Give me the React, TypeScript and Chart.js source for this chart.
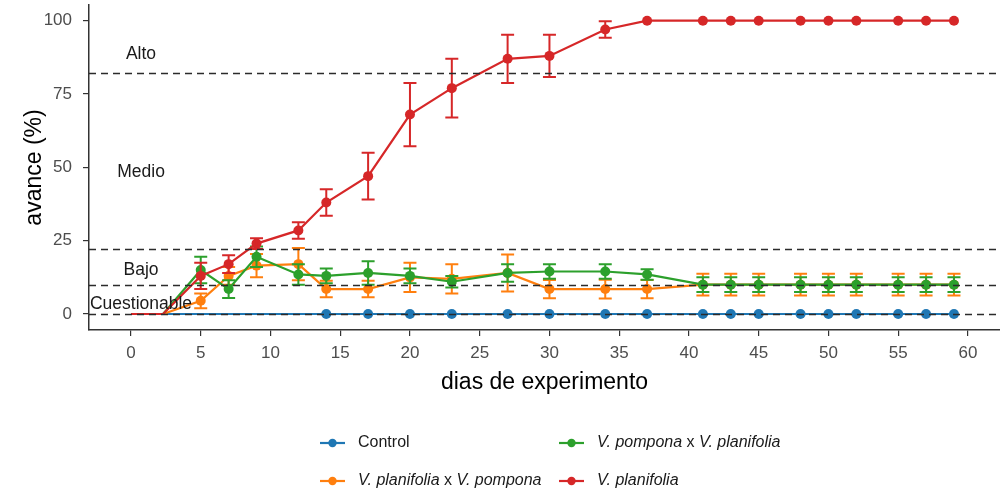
import React, { useEffect, useRef } from 'react';
import { Chart, registerables } from 'chart.js';

Chart.register(...registerables);

const FONT = "'Liberation Sans', Arial, Helvetica, sans-serif";

// ---------- data ----------
const xTicks = [0, 5, 10, 15, 20, 25, 30, 35, 40, 45, 50, 55, 60];
const yTicks = [0, 25, 50, 75, 100];

const redDays = [0, 2.3, 5, 7, 9, 12, 14, 17, 20, 23, 27, 30, 34, 37, 41, 43, 45, 48, 50, 52, 55, 57, 59];
const redValues = [0, 0, 13, 17, 24, 28.5, 38, 47, 68, 77, 87, 88, 97, 100, 100, 100, 100, 100, 100, 100, 100, 100, 100];
const redErrors = [0, 0, 4.5, 3, 1.8, 2.8, 4.5, 8, 10.8, 10, 8.2, 7.2, 2.8, 0, 0, 0, 0, 0, 0, 0, 0, 0, 0];

const hybridDays = [2.3, 5, 7, 9, 12, 14, 17, 20, 23, 27, 30, 34, 37, 41, 43, 45, 48, 50, 52, 55, 57, 59];
const greenValues = [0, 15, 8.5, 19.5, 13.5, 13, 14, 13, 11, 14, 14.5, 14.5, 13.5, 10, 10, 10, 10, 10, 10, 10, 10, 10];
const greenErrors = [0, 4.5, 3, 3.5, 3.5, 2.5, 4, 2.5, 2, 3, 2.5, 2.5, 1.8, 2.5, 2.5, 2.5, 2.5, 2.5, 2.5, 2.5, 2.5, 2.5];
const orangeValues = [0, 4.5, 13, 16.5, 17, 8.5, 8.5, 12.5, 12, 14, 8.5, 8.5, 8.5, 10, 10, 10, 10, 10, 10, 10, 10, 10];
const orangeErrors = [0, 2.5, 3, 4, 5.5, 2.8, 2.8, 5, 5, 6.3, 3.1, 3.2, 3.1, 3.7, 3.7, 3.7, 3.7, 3.7, 3.7, 3.7, 3.7, 3.7];

const controlDays = [2.3, 14, 17, 20, 23, 27, 30, 34, 37, 41, 43, 45, 48, 50, 52, 55, 57, 59];
const controlValues = [0, 0, 0, 0, 0, 0, 0, 0, 0, 0, 0, 0, 0, 0, 0, 0, 0, 0];
const controlErrors = [0, 0, 0, 0, 0, 0, 0, 0, 0, 0, 0, 0, 0, 0, 0, 0, 0, 0];

const thresholdLines = [82, 22, 10, 0];
const zoneLabels = ['Alto', 'Medio', 'Bajo', 'Cuestionable'];
const zoneLabelY = [88.6, 48.5, 14.8, 3.4];
const zoneLabelX = 0.72;

const COLORS = {
  control: '#1f77b4',
  orange: '#ff7f0e',
  green: '#2ca02c',
  red: '#d62728',
};

type Seg = [string, boolean];
const legendEntries: { parts: Seg[]; color: string }[] = [
  { parts: [['Control', false]], color: COLORS.control },
  { parts: [['V. planifolia', true], [' x ', false], ['V. pompona', true]], color: COLORS.orange },
  { parts: [['V. pompona', true], [' x ', false], ['V. planifolia', true]], color: COLORS.green },
  { parts: [['V. planifolia', true]], color: COLORS.red },
];

const seriesList = [
  { label: 'V. planifolia', days: redDays, values: redValues, errors: redErrors, color: COLORS.red, order: 0 },
  { label: 'V. pompona x V. planifolia', days: hybridDays, values: greenValues, errors: greenErrors, color: COLORS.green, order: 1 },
  { label: 'V. planifolia x V. pompona', days: hybridDays, values: orangeValues, errors: orangeErrors, color: COLORS.orange, order: 2 },
  { label: 'Control', days: controlDays, values: controlValues, errors: controlErrors, color: COLORS.control, order: 3 },
];

// ---------- plugins ----------
const errorBarPlugin = {
  id: 'errorBars',
  afterDatasetDraw(chart: any, args: any) {
    const s = seriesList[args.index];
    if (!s) return;
    const { ctx } = chart;
    const xs = chart.scales.x;
    const ys = chart.scales.y;
    ctx.save();
    ctx.strokeStyle = s.color;
    ctx.lineWidth = 2;
    ctx.setLineDash([]);
    s.days.forEach((d, i) => {
      const e = s.errors[i];
      if (!e) return;
      const x = xs.getPixelForValue(d);
      const y1 = ys.getPixelForValue(s.values[i] + e);
      const y2 = ys.getPixelForValue(s.values[i] - e);
      const hw = 6.5;
      ctx.beginPath();
      ctx.moveTo(x, y1);
      ctx.lineTo(x, y2);
      ctx.moveTo(x - hw, y1);
      ctx.lineTo(x + hw, y1);
      ctx.moveTo(x - hw, y2);
      ctx.lineTo(x + hw, y2);
      ctx.stroke();
    });
    ctx.restore();
  },
};

const overlayPlugin = {
  id: 'overlay',
  afterDatasetsDraw(chart: any) {
    const { ctx, chartArea } = chart;
    const xs = chart.scales.x;
    const ys = chart.scales.y;
    ctx.save();
    ctx.strokeStyle = '#2b2b2b';
    ctx.lineWidth = 1.4;
    ctx.setLineDash([7, 5]);
    thresholdLines.forEach((v) => {
      const y = Math.round(ys.getPixelForValue(v)) + 0.5;
      ctx.beginPath();
      ctx.moveTo(chartArea.left, y);
      ctx.lineTo(chartArea.right, y);
      ctx.stroke();
    });
    ctx.setLineDash([]);
    ctx.fillStyle = '#1a1a1a';
    ctx.font = `17.5px ${FONT}`;
    ctx.textAlign = 'center';
    ctx.textBaseline = 'middle';
    zoneLabels.forEach((t, i) => {
      ctx.fillText(t, xs.getPixelForValue(zoneLabelX), ys.getPixelForValue(zoneLabelY[i]));
    });
    ctx.restore();
  },
  afterDraw(chart: any) {
    const { ctx } = chart;
    const colX = [320, 559];
    const rowY = [443, 481];
    ctx.save();
    legendEntries.forEach((entry, idx) => {
      const col = Math.floor(idx / 2);
      const row = idx % 2;
      const x0 = colX[col];
      const y = rowY[row];
      ctx.strokeStyle = entry.color;
      ctx.lineWidth = 2.2;
      ctx.beginPath();
      ctx.moveTo(x0, y);
      ctx.lineTo(x0 + 25, y);
      ctx.stroke();
      ctx.fillStyle = entry.color;
      ctx.beginPath();
      ctx.arc(x0 + 12.5, y, 4.2, 0, Math.PI * 2);
      ctx.fill();
      let tx = x0 + 38;
      ctx.fillStyle = '#1a1a1a';
      ctx.textAlign = 'left';
      ctx.textBaseline = 'middle';
      entry.parts.forEach(([text, italic]) => {
        ctx.font = `${italic ? 'italic ' : ''}16px ${FONT}`;
        ctx.fillText(text, tx, y);
        tx += ctx.measureText(text).width;
      });
    });
    ctx.restore();
  },
};

export default function App() {
  const ref = useRef<HTMLCanvasElement>(null);

  useEffect(() => {
    if (!ref.current) return;
    Chart.defaults.font.family = FONT;
    const datasets = seriesList.map((s) => ({
      label: s.label,
      data: s.days.map((d, i) => ({ x: d, y: s.values[i] })),
      borderColor: s.color,
      backgroundColor: s.color,
      borderWidth: 2.2,
      pointRadius: (c: any) => (c.raw && c.raw.x < 2.5 ? 0 : 5),
      pointBorderWidth: 0,
      pointHoverRadius: 0,
      tension: 0,
      order: s.order,
    }));

    const chart = new Chart(ref.current, {
      type: 'line',
      data: { datasets },
      plugins: [errorBarPlugin, overlayPlugin],
      options: {
        animation: false,
        responsive: false,
        events: [],
        layout: { autoPadding: false, padding: { top: 5, right: 0, bottom: 93, left: 0 } },
        plugins: {
          legend: { display: false },
          tooltip: { enabled: false },
        },
        scales: {
          x: {
            type: 'linear',
            min: -3.01,
            max: 62.3,
            afterBuildTicks: (s: any) => {
              s.ticks = xTicks.map((v) => ({ value: v }));
            },
            afterFit: (s: any) => {
              s.height = 70;
              s.paddingLeft = 0;
              s.paddingRight = 0;
            },
            border: { display: true, color: '#333', width: 1.5 },
            grid: { display: true, drawOnChartArea: false, drawTicks: true, tickLength: 6, color: '#333', lineWidth: 1.2 },
            ticks: { color: '#4d4d4d', font: { size: 17, family: FONT }, padding: 7, maxRotation: 0, autoSkip: false },
            title: { display: true, text: 'dias de experimento', color: '#000', font: { size: 23, family: FONT }, padding: { top: 0, bottom: 4 } },
          },
          y: {
            type: 'linear',
            min: -5.45,
            max: 105.35,
            afterBuildTicks: (s: any) => {
              s.ticks = yTicks.map((v) => ({ value: v }));
            },
            afterFit: (s: any) => {
              s.width = 89;
              s.paddingTop = 0;
              s.paddingBottom = 0;
            },
            border: { display: true, color: '#333', width: 1.5 },
            grid: { display: true, drawOnChartArea: false, drawTicks: true, tickLength: 6, color: '#333', lineWidth: 1.2 },
            ticks: { color: '#4d4d4d', font: { size: 17, family: FONT }, padding: 11, autoSkip: false },
            title: { display: true, text: 'avance (%)', color: '#000', font: { size: 23, family: FONT }, padding: { top: 21, bottom: 0 } },
          },
        },
      },
    });
    return () => chart.destroy();
  }, []);

  return (
    <div style={{ position: 'absolute', left: 0, top: 0, width: 1000, height: 493, background: '#fff' }}>
      <canvas ref={ref} width={1000} height={493} />
    </div>
  );
}
